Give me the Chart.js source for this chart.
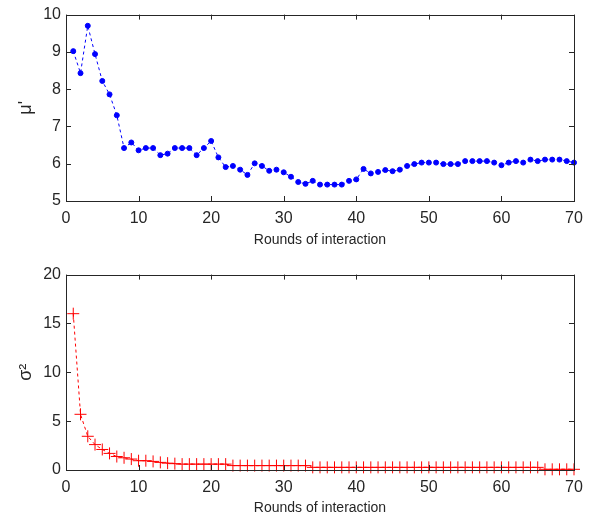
<!DOCTYPE html>
<html>
<head>
<meta charset="utf-8">
<script src="https://cdn.jsdelivr.net/npm/chart.js@4.4.1/dist/chart.umd.min.js"></script>
<style>
  html, body { margin: 0; padding: 0; background: #fff; }
  #wrap { position: relative; width: 598px; height: 521px; }
  .box { position: absolute; left: 0; width: 598px; }
  #boxMu { top: 0; height: 258px; }
  #boxSigma { top: 260px; height: 261px; }
</style>
</head>
<body>
<div id="wrap">
  <div class="box" id="boxMu"><canvas id="chartMu"></canvas></div>
  <div class="box" id="boxSigma"><canvas id="chartSigma"></canvas></div>
</div>
<script>
// rounds of interaction
var rounds = [1, 2, 3, 4, 5, 6, 7, 8, 9, 10, 11, 12, 13, 14, 15, 16, 17, 18, 19, 20,
  21, 22, 23, 24, 25, 26, 27, 28, 29, 30, 31, 32, 33, 34, 35, 36, 37, 38, 39, 40,
  41, 42, 43, 44, 45, 46, 47, 48, 49, 50, 51, 52, 53, 54, 55, 56, 57, 58, 59, 60,
  61, 62, 63, 64, 65, 66, 67, 68, 69, 70];

// mu' estimate per round
var muValues = [9.02, 8.43, 9.70, 8.94, 8.22, 7.86, 7.30, 6.42, 6.57, 6.36,
  6.42, 6.42, 6.23, 6.27, 6.42, 6.42, 6.42, 6.23, 6.42, 6.61,
  6.17, 5.91, 5.94, 5.84, 5.70, 6.01, 5.94, 5.81, 5.84, 5.77,
  5.65, 5.51, 5.46, 5.54, 5.44, 5.44, 5.44, 5.44, 5.54, 5.58,
  5.86, 5.74, 5.78, 5.83, 5.80, 5.84, 5.94, 5.99, 6.03, 6.03,
  6.03, 5.99, 5.99, 5.99, 6.07, 6.07, 6.07, 6.07, 6.03, 5.96,
  6.03, 6.07, 6.03, 6.11, 6.07, 6.11, 6.11, 6.11, 6.07, 6.03];

// sigma^2 per round
var sigmaValues = [16.0, 5.7, 3.45, 2.6, 2.1, 1.7, 1.38, 1.25, 1.12, 0.95,
  0.95, 0.88, 0.78, 0.7, 0.65, 0.6, 0.6, 0.6, 0.6, 0.6,
  0.6, 0.6, 0.45, 0.45, 0.45, 0.45, 0.45, 0.45, 0.45, 0.45,
  0.45, 0.45, 0.45, 0.27, 0.27, 0.27, 0.27, 0.27, 0.27, 0.27,
  0.27, 0.27, 0.27, 0.27, 0.27, 0.27, 0.27, 0.27, 0.27, 0.27,
  0.27, 0.27, 0.27, 0.27, 0.27, 0.27, 0.27, 0.27, 0.27, 0.27,
  0.27, 0.27, 0.27, 0.27, 0.27, 0.07, 0.07, 0.07, 0.07, 0.07];

var xTicks = [0, 10, 20, 30, 40, 50, 60, 70];
var muTicks = [5, 6, 7, 8, 9, 10];
var sigmaTicks = [0, 5, 10, 15, 20];

var tickFont = { family: "'Liberation Sans', Arial", size: 16 };
var titleFont = { family: "'Liberation Sans', Arial", size: 14 };

// matlab style box with inward ticks on all four sides
var boxTicks = {
  id: 'boxTicks',
  afterDraw(chart) {
    let ctx = chart.ctx;
    let a = chart.chartArea;
    let x = chart.scales.x, y = chart.scales.y;
    ctx.save();
    ctx.strokeStyle = '#262626';
    ctx.lineWidth = 1;
    ctx.strokeRect(Math.round(a.left) + 0.5, Math.round(a.top) + 0.5,
      Math.round(a.right - a.left), Math.round(a.bottom - a.top));
    ctx.beginPath();
    x.ticks.forEach(t => {
      let px = Math.round(x.getPixelForValue(t.value)) + 0.5;
      ctx.moveTo(px, a.bottom); ctx.lineTo(px, a.bottom - 5);
      ctx.moveTo(px, a.top); ctx.lineTo(px, a.top + 5);
    });
    y.ticks.forEach(t => {
      let py = Math.round(y.getPixelForValue(t.value)) + 0.5;
      ctx.moveTo(a.left, py); ctx.lineTo(a.left + 5, py);
      ctx.moveTo(a.right, py); ctx.lineTo(a.right - 5, py);
    });
    ctx.stroke();
    ctx.restore();
  }
};

function makeChart(id, values, yTicks, yTitle, color, style, radius, padTop, xHeight, titlePad) {
  let pts = rounds.map((r, i) => ({ x: r, y: values[i] }));
  return new Chart(document.getElementById(id), {
    type: 'line',
    data: {
      datasets: [{
        data: pts,
        borderColor: color,
        backgroundColor: color,
        borderWidth: 1,
        borderDash: [3, 3],
        pointStyle: style,
        pointRadius: radius,
        pointBorderWidth: 1,
        pointHoverRadius: radius,
        tension: 0,
        clip: false
      }]
    },
    options: {
      responsive: true,
      maintainAspectRatio: false,
      animation: false,
      events: [],
      layout: { padding: { top: padTop, right: 24, left: 0, bottom: 0 } },
      plugins: { legend: { display: false }, tooltip: { enabled: false } },
      scales: {
        x: {
          type: 'linear',
          min: xTicks[0],
          max: xTicks[xTicks.length - 1],
          border: { display: false },
          grid: { display: false, drawTicks: false },
          afterBuildTicks: s => { s.ticks = xTicks.map(v => ({ value: v })); },
          afterFit: s => { s.height = xHeight; },
          ticks: { color: '#262626', font: tickFont, padding: 8, maxRotation: 0 },
          title: { display: true, text: 'Rounds of interaction', color: '#262626',
                   font: titleFont, padding: { top: 0, bottom: titlePad } }
        },
        y: {
          min: yTicks[0],
          max: yTicks[yTicks.length - 1],
          border: { display: false },
          grid: { display: false, drawTicks: false },
          afterBuildTicks: s => { s.ticks = yTicks.map(v => ({ value: v })); },
          afterFit: s => { s.width = 66; },
          ticks: { color: '#262626', font: tickFont, padding: 5 },
          title: { display: true, text: yTitle, color: '#262626',
                   font: { family: "'Liberation Sans', Arial", size: 18 }, padding: { top: 15, bottom: 0 } }
        }
      }
    },
    plugins: [boxTicks]
  });
}

makeChart('chartMu', muValues, muTicks, "\u03bc'", '#0000ff', 'circle', 2.5, 7, 57, 9);
makeChart('chartSigma', sigmaValues, sigmaTicks, '\u03c3\u00b2', '#ff0000', 'cross', 6, 14, 51, 4);
</script>
</body>
</html>
